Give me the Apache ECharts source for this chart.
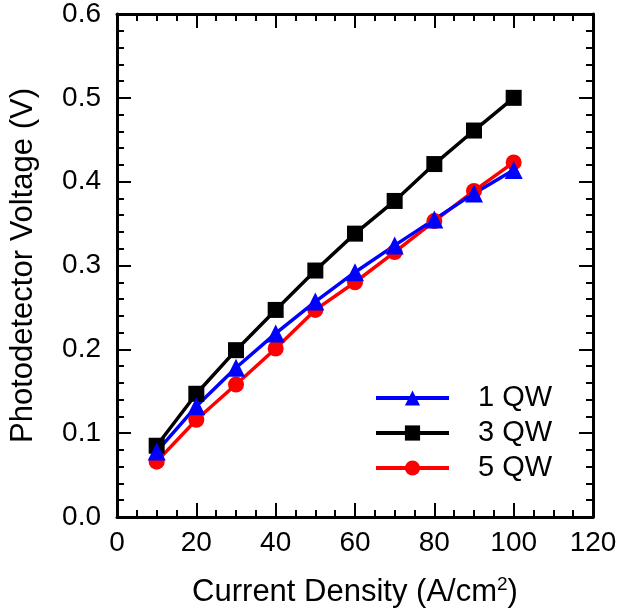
<!DOCTYPE html>
<html>
<head>
    <meta charset="UTF-8">
    <title>Photodetector Voltage</title>
    <script src="https://cdn.jsdelivr.net/npm/echarts@6/dist/echarts.min.js"></script>
    <style>
        html, body { margin: 0; padding: 0; background: #fff; }
        #chart { width: 620px; height: 613px; }
    </style>
</head>
<body>
<div id="chart"></div>
<script>
    // data
    var currentDensity = [10, 20, 30, 40, 50, 60, 70, 80, 90, 100];
    var qw1 = [0.078, 0.132, 0.178, 0.219, 0.257, 0.292, 0.324, 0.355, 0.386, 0.414];
    var qw3 = [0.085, 0.147, 0.199, 0.247, 0.294, 0.338, 0.377, 0.421, 0.461, 0.500];
    var qw5 = [0.066, 0.116, 0.158, 0.201, 0.247, 0.280, 0.316, 0.353, 0.389, 0.423];
    var seriesNames = ['1 QW', '3 QW', '5 QW'];

    function pairs(ys) {
        return currentDensity.map(function (x, i) { return [x, ys[i]]; });
    }

    var font = 'Liberation Sans, Arial, sans-serif';
    var tickStyle = { color: '#000', width: 2 };

    function xAx(pos, labels) {
        return {
            type: 'value', position: pos, min: 0, max: 120, interval: 20,
            axisLine: { show: true, onZero: false, lineStyle: { color: '#000', width: 3 } },
            axisTick: { show: true, inside: true, length: 14, lineStyle: tickStyle },
            minorTick: { show: true, splitNumber: 4, length: 7, lineStyle: tickStyle },
            splitLine: { show: false },
            axisLabel: { show: labels, color: '#000', fontSize: 28, fontFamily: font, margin: 12 }
        };
    }
    function yAx(pos, labels) {
        return {
            type: 'value', position: pos, min: 0, max: 0.6, interval: 0.1,
            axisLine: { show: true, onZero: false, lineStyle: { color: '#000', width: 3 } },
            axisTick: { show: true, inside: true, length: 14, lineStyle: tickStyle },
            minorTick: { show: true, splitNumber: 5, length: 7, lineStyle: tickStyle },
            splitLine: { show: false },
            axisLabel: {
                show: labels, color: '#000', fontSize: 28, fontFamily: font, margin: 16,
                formatter: function (v) { return v.toFixed(1); }
            }
        };
    }

    var xBottom = xAx('bottom', true);
    xBottom.name = 'Current Density (A/cm{sup|2})';
    xBottom.nameLocation = 'middle';
    xBottom.nameGap = 58;
    xBottom.nameTextStyle = {
        color: '#000', fontSize: 31, fontFamily: font,
        rich: { sup: { fontSize: 19, verticalAlign: 'top', padding: [0, 0, 16, 0], fontFamily: font, color: '#000' } }
    };

    var yLeft = yAx('left', true);
    yLeft.name = 'Photodetector Voltage (V)';
    yLeft.nameLocation = 'middle';
    yLeft.nameGap = 78;
    yLeft.nameTextStyle = { color: '#000', fontSize: 31, fontFamily: font };

    function line(name, ys, color, symbol, size) {
        return {
            name: name, type: 'line', data: pairs(ys),
            xAxisIndex: 0, yAxisIndex: 0,
            symbol: symbol, symbolSize: size,
            lineStyle: { color: color, width: 3.5 },
            itemStyle: { color: color },
            animation: false
        };
    }

    var chart = echarts.init(document.getElementById('chart'));
    chart.setOption({
        backgroundColor: '#fff',
        animation: false,
        grid: { left: 116, right: 27, top: 13, bottom: 92 },
        xAxis: [xBottom, xAx('top', false)],
        yAxis: [yLeft, yAx('right', false)],
        legend: {
            data: seriesNames,
            orient: 'vertical',
            left: 369, top: 378,
            itemWidth: 73, itemHeight: 19, itemGap: 5,
            lineStyle: { width: 4 },
            textStyle: { color: '#000', fontSize: 29, fontFamily: font, lineHeight: 30, padding: [0, 0, 0, 24] }
        },
        series: [
            line(seriesNames[1], qw3, '#000000', 'rect', 16),
            line(seriesNames[2], qw5, '#ff0000', 'circle', 16),
            line(seriesNames[0], qw1, '#0000ff', 'triangle', 18)
        ]
    });
</script>
</body>
</html>
